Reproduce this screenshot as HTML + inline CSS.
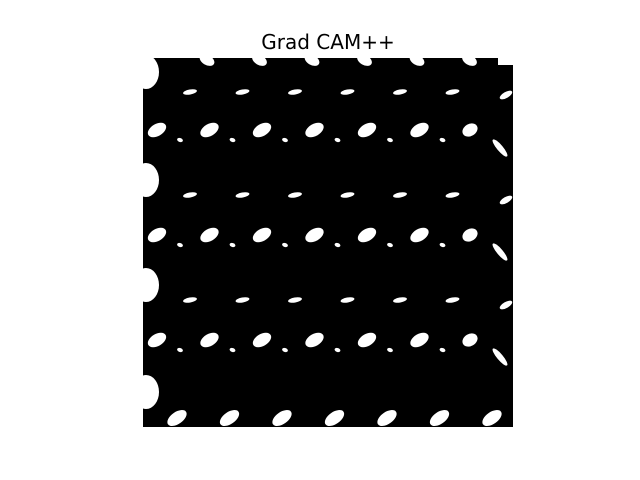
<!DOCTYPE html>
<html><head><meta charset="utf-8"><style>
body{margin:0;background:#fff;width:640px;height:480px;overflow:hidden}
svg{display:block}
</style></head><body>
<svg id="fig" width="640" height="480">
<defs><clipPath id="clip"><rect x="143" y="58" width="370" height="369"/></clipPath></defs>
<rect width="640" height="480" fill="#fff"/>
<text x="328" y="49" text-anchor="middle" font-family="DejaVu Sans, Liberation Sans, sans-serif" font-size="20">Grad CAM++</text>
<rect x="143" y="58" width="370" height="369" fill="#000"/>
<g id="blobs" fill="#fff" clip-path="url(#clip)"></g>
<rect x="498" y="58" width="15" height="7" fill="#fff"/>
</svg>
<script>
const cols = [0,1,2,3,4,5,6];
const bigRows = [130,235,340];
const smallRows = [92,195,300];
const g = document.getElementById('blobs');
const NS='http://www.w3.org/2000/svg';
function blob(cx,cy,rx,ry,rot,name){
  const e=document.createElementNS(NS,'ellipse');
  e.setAttribute('cx',cx);e.setAttribute('cy',cy);e.setAttribute('rx',rx);e.setAttribute('ry',ry);
  e.setAttribute('transform','rotate('+rot+' '+cx+' '+cy+')');
  
  
  g.appendChild(e);
}
cols.forEach(c=>{
  const x=155+c*52.5;
  bigRows.forEach(y=>{ if(c<6) blob(x+2,y,10,6,-30,'hot-blob'); else blob(x,y,8,6,-30,'hot-blob'); if(c<6) blob(x+25,y+10,3,2,20,'small-blob');});
  smallRows.forEach(y=>{ if(c<6) blob(x+35,y,7,2.5,-10,'small-blob');});
  blob(x+52,60,8,5,30,'top-blob');
  blob(x+22,418,11,6,-35,'bottom-blob');
});
[72,180,285,392].forEach(y=>blob(146,y,13,17,0,'edge-blob'));
[148,252,357].forEach(y=>blob(500,y,3,11,-40,'edge-streak'));
[95,200,305].forEach(y=>blob(506,y,7,3,-30,'edge-blob'));
</script>
</body></html>
